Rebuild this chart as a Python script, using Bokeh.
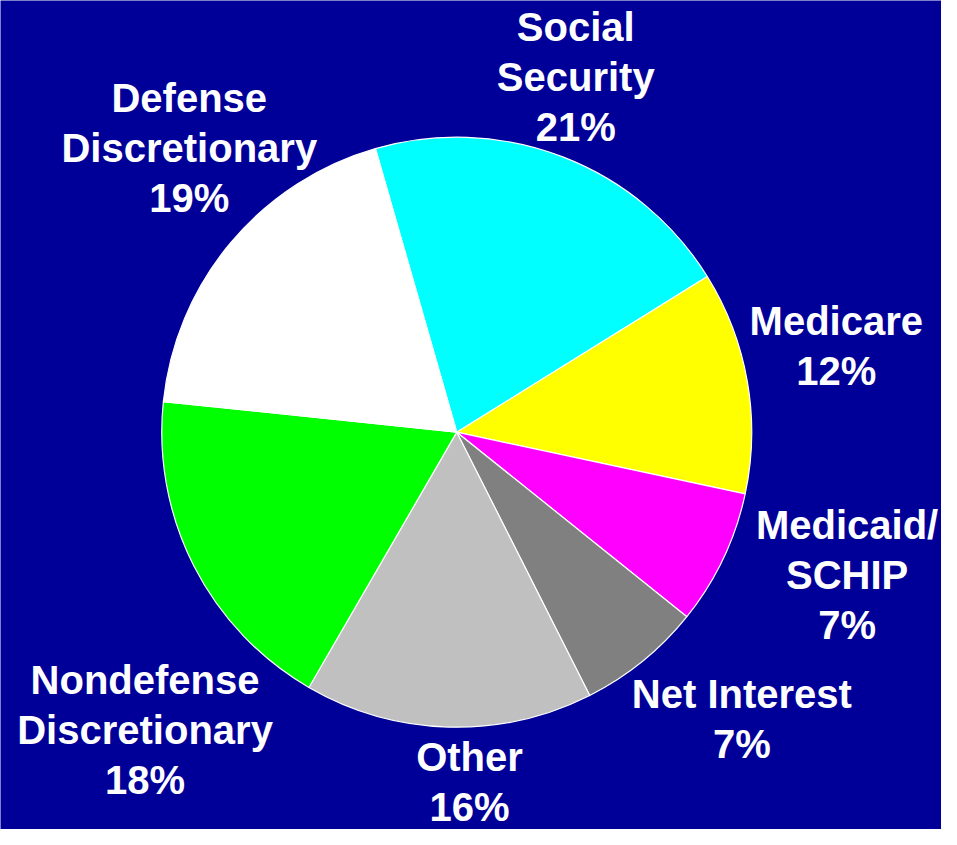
import numpy as np
from bokeh.plotting import figure
from bokeh.models import Range1d, ColumnDataSource
from bokeh.core.properties import value
from bokeh.embed import file_html
from bokeh.resources import INLINE

# Data (clockwise from Social Security)
categories = ["Social\nSecurity", "Medicare", "Medicaid/\nSCHIP", "Net Interest",
              "Other", "Nondefense\nDiscretionary", "Defense\nDiscretionary"]
shares = [20.6, 12.2, 7.4, 6.8, 15.8, 18.3, 18.9]
colors = ["#00FFFF", "#FFFF00", "#FF00FF", "#808080", "#C0C0C0", "#00FF00", "#FFFFFF"]
# label anchor positions (reference pixel coords of label centres, first line)
label_x = [585, 850, 861, 754, 477, 147, 192]
label_y = [27, 327, 535, 707, 771, 693, 99]

W, H = 957, 845
BG = "#000099"
CX, CY, R = 464, 440, 300
START = 106.0

p = figure(width=941, height=829, output_backend="svg", toolbar_location=None,
           x_range=Range1d(0, W), y_range=Range1d(0, H), min_border=0)
p.axis.visible = False
p.grid.visible = False
p.outline_line_color = None
p.background_fill_color = BG
p.border_fill_color = BG

vals = np.array(shares, dtype=float)
frac = vals / vals.sum()
cum = np.concatenate([[0], np.cumsum(frac)])
starts = np.radians(START - cum[:-1] * 360)
ends = np.radians(START - cum[1:] * 360)

src = ColumnDataSource(dict(start=starts, end=ends, color=colors))
p.wedge(x=CX, y=H - CY, radius=R, start_angle="start", end_angle="end",
        direction="clock", fill_color="color", line_color="white", line_width=1.2,
        source=src)

tx, ty, tt = [], [], []
line_h = 51
for name, s, lx, ly in zip(categories, shares, label_x, label_y):
    lines = name.split("\n") + [f"{round(s)}%"]
    for i, ln in enumerate(lines):
        tx.append(lx)
        ty.append(H - (ly + i * line_h))
        tt.append(ln)

p.text(x=tx, y=ty, text=tt, text_align="center", text_baseline="middle",
       text_color="white", text_font=value("Liberation Sans"),
       text_font_style="bold", text_font_size="40px", text_line_height=1.0)

open("out.html", "w").write(file_html(p, INLINE))
